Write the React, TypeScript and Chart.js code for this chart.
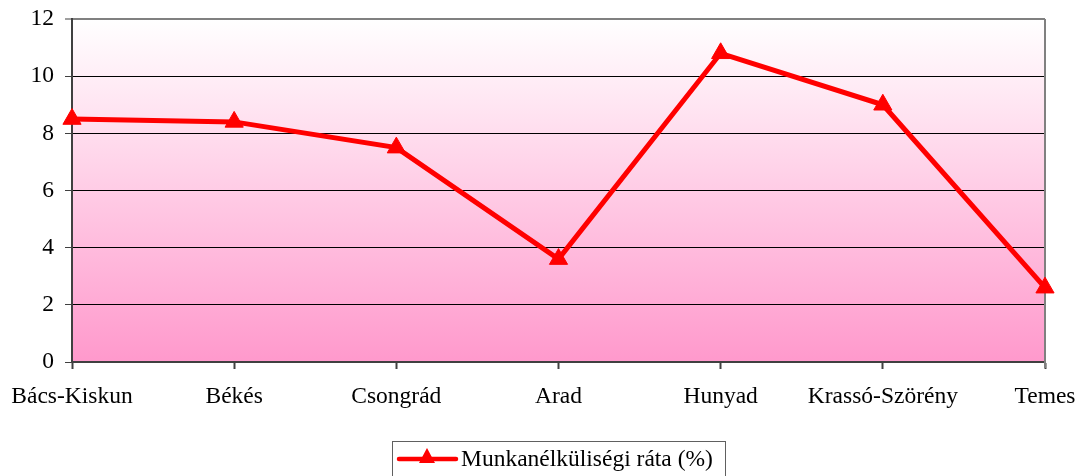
import React, { useEffect, useRef } from "react";
import { Chart, registerables } from "chart.js";

Chart.register(...registerables);

const categories = ["Bács-Kiskun", "Békés", "Csongrád", "Arad", "Hunyad", "Krassó-Szörény", "Temes"];
const unemploymentRate = [8.5, 8.4, 7.5, 3.6, 10.8, 9.0, 2.6];
const seriesLabel = "Munkanélküliségi ráta (%)";
const yTicks = [0, 2, 4, 6, 8, 10, 12];

const FONT = "'Liberation Serif', 'Times New Roman', serif";
const FSIZE = 23.5;

const decorPlugin = {
  id: "decor",
  beforeDraw(chart: any) {
    const { ctx, chartArea } = chart;
    const { left, right, top, bottom } = chartArea;
    const g = ctx.createLinearGradient(0, top, 0, bottom);
    g.addColorStop(0, "#FFFFFF");
    g.addColorStop(1, "#FF99CC");
    ctx.save();
    ctx.fillStyle = g;
    ctx.fillRect(left, top, right - left, bottom - top);
    ctx.restore();
  },
  beforeDatasetsDraw(chart: any) {
    const { ctx, chartArea } = chart;
    const { right, top, bottom } = chartArea;
    ctx.save();
    ctx.strokeStyle = "#808080";
    ctx.lineWidth = 2;
    ctx.beginPath();
    ctx.moveTo(right, top);
    ctx.lineTo(right, bottom + 6);
    ctx.stroke();
    ctx.restore();
  },
  afterDraw(chart: any) {
    const { ctx } = chart;
    ctx.save();
    const bx = 392.5, by = 441.5, bw = 333, bh = 40;
    ctx.strokeStyle = "#606060";
    ctx.lineWidth = 1;
    ctx.strokeRect(bx, by, bw, bh);
    const ly = 459;
    ctx.strokeStyle = "#FF0000";
    ctx.lineWidth = 4.5;
    ctx.lineCap = "round";
    ctx.beginPath();
    ctx.moveTo(399, ly);
    ctx.lineTo(456, ly);
    ctx.stroke();
    const cx = 427;
    ctx.fillStyle = "#FF0000";
    ctx.beginPath();
    ctx.moveTo(cx, ly - 11);
    ctx.lineTo(cx + 8, ly + 4);
    ctx.lineTo(cx - 8, ly + 4);
    ctx.closePath();
    ctx.fill();
    ctx.fillStyle = "#000";
    ctx.font = `${FSIZE}px ${FONT}`;
    ctx.textBaseline = "middle";
    ctx.textAlign = "left";
    ctx.fillText(seriesLabel, 461, ly + 1);
    ctx.restore();
  },
};

export default function App() {
  const ref = useRef<HTMLCanvasElement | null>(null);
  useEffect(() => {
    document.body.style.margin = "0";
    const canvas = ref.current!;
    const chart = new Chart(canvas, {
      type: "line",
      data: {
        labels: categories,
        datasets: [
          {
            label: seriesLabel,
            data: unemploymentRate,
            borderColor: "#FF0000",
            backgroundColor: "#FF0000",
            borderWidth: 5,
            pointStyle: "triangle",
            pointRadius: 10.5,
            pointBackgroundColor: "#FF0000",
            pointBorderColor: "#FF0000",
            pointBorderWidth: 1,
            tension: 0,
            clip: false,
          },
        ],
      },
      options: {
        animation: false,
        responsive: false,
        maintainAspectRatio: false,
        layout: { padding: { left: 0, right: 34, top: 19, bottom: 0 } },
        plugins: {
          legend: { display: false },
          tooltip: { enabled: false },
        },
        scales: {
          x: {
            type: "category",
            offset: false,
            grid: {
              drawOnChartArea: false,
              drawTicks: true,
              tickLength: 7,
              tickColor: "#404040",
              tickWidth: 2,
            },
            border: { display: true, color: "#404040", width: 2 },
            ticks: {
              color: "#000",
              font: { family: FONT, size: FSIZE },
              padding: 14,
              maxRotation: 0,
              autoSkip: false,
            },
            afterFit(scale: any) {
              scale.height = 114;
              scale.paddingLeft = 0;
              scale.paddingRight = 0;
            },
          },
          y: {
            min: 0,
            max: 12,
            afterBuildTicks(scale: any) {
              scale.ticks = yTicks.map((v) => ({ value: v }));
            },
            grid: {
              color: (c: any) => (c.tick && c.tick.value === 12 ? "#808080" : "#000000"),
              lineWidth: (c: any) => (c.tick && c.tick.value === 12 ? 2 : 1),
              drawTicks: true,
              tickLength: 7,
              tickColor: "#404040",
              tickWidth: 1,
            },
            border: { display: true, color: "#404040", width: 2 },
            ticks: {
              color: "#000",
              font: { family: FONT, size: FSIZE },
              padding: 11,
            },
            afterFit(scale: any) {
              scale.width = 72;
              scale.paddingTop = 0;
              scale.paddingBottom = 0;
            },
          },
        },
      },
      plugins: [decorPlugin],
    } as any);
    return () => chart.destroy();
  }, []);
  return (
    <div style={{ width: 1079, height: 476 }}>
      <canvas ref={ref} width={1079} height={476} style={{ display: "block" }} />
    </div>
  );
}
